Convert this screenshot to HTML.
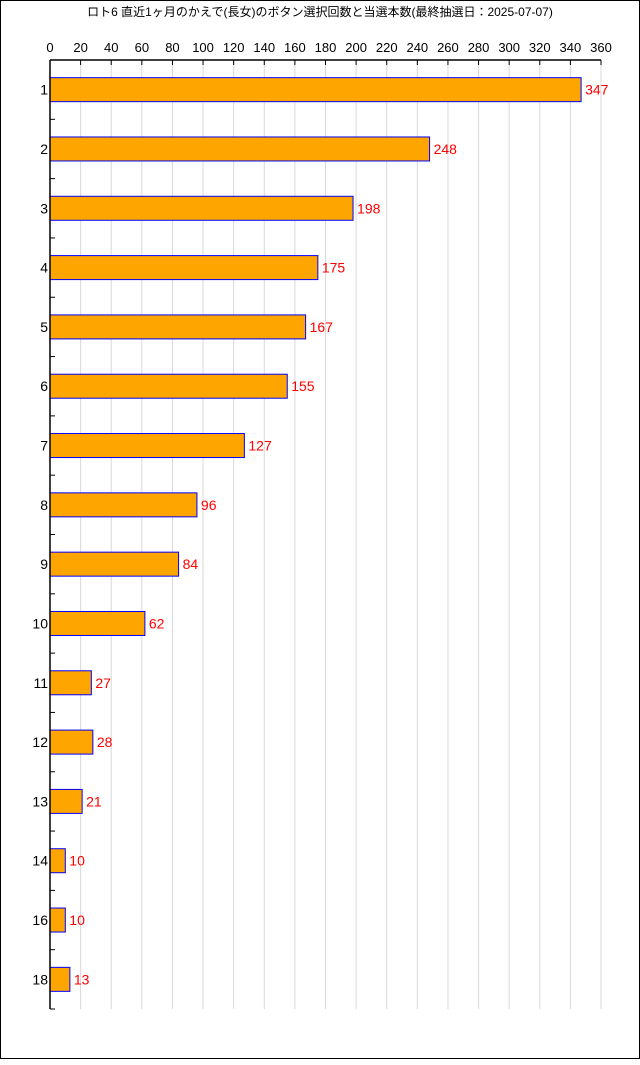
<!DOCTYPE html>
<html><head><meta charset="utf-8"><style>
body{margin:0;background:#fff}
svg text{font-family:"Liberation Sans","Noto Sans CJK JP",sans-serif}
</style></head><body>
<svg width="640" height="1060" xmlns="http://www.w3.org/2000/svg">
<rect x="0.5" y="0.5" width="639" height="1058" fill="#fff" stroke="#000"/>
<text x="320" y="16" font-size="12" text-anchor="middle" fill="#000">ロト6 直近1ヶ月のかえで(長女)のボタン選択回数と当選本数(最終抽選日：2025-07-07)</text>
<g id="grid"></g><g id="bars"></g><g id="axes"></g>
</svg>
<script>
const categories=["1","2","3","4","5","6","7","8","9","10","11","12","13","14","16","18"];
const values=[347,248,198,175,167,155,127,96,84,62,27,28,21,10,10,13];
const xTicks=[0,20,40,60,80,100,120,140,160,180,200,220,240,260,280,300,320,340,360];
const NS="http://www.w3.org/2000/svg";
const L=50,R=601,T=60,B=1009,XMAX=360;
const x=v=>L+(R-L)*v/XMAX;
const band=(B-T)/categories.length;
const y=i=>T+band*i;
function mk(tag,attrs,parent,text){const e=document.createElementNS(NS,tag);for(const k in attrs)e.setAttribute(k,attrs[k]);if(text!=null)e.textContent=text;document.getElementById(parent).appendChild(e);return e;}
xTicks.forEach(t=>{
 const g=mk('line',{x1:x(t),x2:x(t),y1:T,y2:B,stroke:'#d8d8d8'},'grid');
 
 
 const tk=mk('line',{x1:x(t),x2:x(t),y1:T,y2:T+5,stroke:'#000'},'axes');
 
 
 const lb=mk('text',{x:x(t),y:T-8,'font-size':13,'text-anchor':'middle',fill:'#000'},'axes',String(t));
 
 
});
categories.forEach((c,i)=>{
 const cy=y(i)+band/2;
 const b=mk('rect',{x:L,y:cy-12,width:x(values[i])-L,height:24,fill:'#ffa500',stroke:'#0000ff','stroke-width':1},'bars');
 
 
 const v=mk('text',{x:x(values[i])+4,y:cy+5,'font-size':14,fill:'#ff0000'},'bars',String(values[i]));
 
 
 const cl=mk('text',{x:L-2,y:cy+5,'font-size':14,'text-anchor':'end',fill:'#000'},'axes',c);
 
 
 const tk=mk('line',{x1:L,x2:L+5,y1:y(i+1),y2:y(i+1),stroke:'#000'},'axes');
 
 
});
const ax=mk('line',{x1:L,x2:R,y1:T,y2:T,stroke:'#000','stroke-width':1.5},'axes');


const ay=mk('line',{x1:L,x2:L,y1:T,y2:B,stroke:'#000','stroke-width':1.5},'axes');


</script>
</body></html>
